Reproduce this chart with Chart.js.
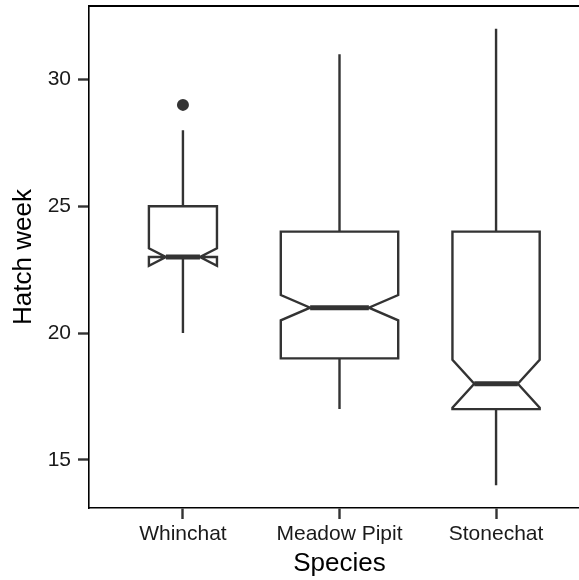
<!DOCTYPE html>
<html>
<head>
<meta charset="utf-8">
<script src="https://cdn.jsdelivr.net/npm/chart.js@4.4.1/dist/chart.umd.min.js"></script>
<style>
    html, body { margin: 0; padding: 0; background: #fff; overflow: hidden; }
    #wrap { width: 579px; height: 580px; overflow: hidden; }
</style>
</head>
<body>
<div id="wrap"><canvas id="hatchChart" width="596" height="580"></canvas></div>
<script>
// Hatch week per species
const species = ['Whinchat', 'Meadow Pipit', 'Stonechat'];
const lowerWhisker = [20, 17, 14];
const lowerHinge = [23, 19, 17];
const medians = [23, 21, 18];
const upperHinge = [25, 24, 24];
const upperWhisker = [28, 31, 32];
// sample sizes (drive box width and notch size, as varwidth + notch do)
const counts = [84, 250, 138];

const outlierSpecies = ['Whinchat'];
const outlierWeeks = [29];

const yTicks = [15, 20, 25, 30];

const lineColor = '#333333';
const fontFamily = '"Liberation Sans", Arial, sans-serif';

// 5% expansion of the data range, like ggplot
const allValues = lowerWhisker.concat(upperWhisker, outlierWeeks);
const dataMin = Math.min(...allValues);
const dataMax = Math.max(...allValues);
const pad = (dataMax - dataMin) * 0.05;

const maxSqrt = Math.max(...counts.map((n) => Math.sqrt(n)));

// no extra room for tick labels at the ends of the axes
const noEdgePadding = (scale) => {
    scale.paddingTop = 0;
    scale.paddingBottom = 0;
    scale.paddingLeft = 0;
    scale.paddingRight = 0;
};

// Draws the notched boxes and whiskers through the chart's scales
const boxplotPlugin = {
    id: 'boxplot',
    beforeDatasetsDraw(chart) {
        const { ctx, scales: { x, y } } = chart;
        ctx.save();
        ctx.strokeStyle = lineColor;
        ctx.fillStyle = '#ffffff';
        ctx.lineJoin = 'miter';
        ctx.lineCap = 'butt';

        species.forEach((name, i) => {
            const pos = i + 1;
            const half = 0.375 * Math.sqrt(counts[i]) / maxSqrt;
            const iqr = upperHinge[i] - lowerHinge[i];
            const notch = 1.58 * iqr / Math.sqrt(counts[i]);
            const notchLo = medians[i] - notch;
            const notchHi = medians[i] + notch;

            const xc = x.getPixelForValue(pos);
            const x0 = x.getPixelForValue(pos - half);
            const x1 = x.getPixelForValue(pos + half);
            const nx0 = x.getPixelForValue(pos - half / 2);
            const nx1 = x.getPixelForValue(pos + half / 2);

            // whiskers
            ctx.lineWidth = 2.4;
            ctx.beginPath();
            ctx.moveTo(xc, y.getPixelForValue(upperHinge[i]));
            ctx.lineTo(xc, y.getPixelForValue(upperWhisker[i]));
            ctx.moveTo(xc, y.getPixelForValue(lowerHinge[i]));
            ctx.lineTo(xc, y.getPixelForValue(lowerWhisker[i]));
            ctx.stroke();

            // notched box
            ctx.beginPath();
            ctx.moveTo(x0, y.getPixelForValue(upperHinge[i]));
            ctx.lineTo(x0, y.getPixelForValue(notchHi));
            ctx.lineTo(nx0, y.getPixelForValue(medians[i]));
            ctx.lineTo(x0, y.getPixelForValue(notchLo));
            ctx.lineTo(x0, y.getPixelForValue(lowerHinge[i]));
            ctx.lineTo(x1, y.getPixelForValue(lowerHinge[i]));
            ctx.lineTo(x1, y.getPixelForValue(notchLo));
            ctx.lineTo(nx1, y.getPixelForValue(medians[i]));
            ctx.lineTo(x1, y.getPixelForValue(notchHi));
            ctx.lineTo(x1, y.getPixelForValue(upperHinge[i]));
            ctx.closePath();
            ctx.fill();
            ctx.stroke();

            // median
            ctx.lineWidth = 5;
            ctx.beginPath();
            ctx.moveTo(nx0, y.getPixelForValue(medians[i]));
            ctx.lineTo(nx1, y.getPixelForValue(medians[i]));
            ctx.stroke();
        });
        ctx.restore();
    },
    afterDraw(chart) {
        // panel border on top / right
        const { ctx, chartArea } = chart;
        ctx.save();
        ctx.strokeStyle = '#000000';
        ctx.lineWidth = 2;
        ctx.beginPath();
        ctx.moveTo(chartArea.left, chartArea.top);
        ctx.lineTo(chartArea.right, chartArea.top);
        ctx.lineTo(chartArea.right, chartArea.bottom);
        ctx.stroke();
        ctx.restore();
    }
};

new Chart(document.getElementById('hatchChart'), {
    type: 'scatter',
    data: {
        datasets: [{
            label: 'Outliers',
            data: outlierSpecies.map((s, i) => ({ x: species.indexOf(s) + 1, y: outlierWeeks[i] })),
            backgroundColor: lineColor,
            borderWidth: 0,
            pointRadius: 6
        }]
    },
    options: {
        responsive: false,
        animation: false,
        layout: { padding: { left: 0, right: 2, top: 6, bottom: 0 } },
        plugins: {
            legend: { display: false },
            tooltip: { enabled: false }
        },
        scales: {
            x: {
                type: 'linear',
                min: 0.4,
                max: species.length + 0.6,
                afterBuildTicks: (scale) => {
                    scale.ticks = species.map((s, i) => ({ value: i + 1 }));
                },
                afterFit: (scale) => {
                    scale.height = 72;
                    noEdgePadding(scale);
                },
                ticks: {
                    callback: (v) => species[v - 1],
                    color: '#1a1a1a',
                    font: { family: fontFamily, size: 21 },
                    padding: 3,
                    maxRotation: 0
                },
                grid: {
                    display: true,
                    drawOnChartArea: false,
                    drawTicks: true,
                    tickLength: 11,
                    tickColor: lineColor,
                    tickWidth: 2.4
                },
                border: { display: true, color: '#000000', width: 1.6 },
                title: {
                    display: true,
                    text: 'Species',
                    color: '#000000',
                    font: { family: fontFamily, size: 26 },
                    padding: { top: 0, bottom: 1 }
                }
            },
            y: {
                type: 'linear',
                min: dataMin - pad,
                max: dataMax + pad,
                afterBuildTicks: (scale) => {
                    scale.ticks = yTicks.map((v) => ({ value: v }));
                },
                afterFit: (scale) => {
                    scale.width = 89;
                    noEdgePadding(scale);
                },
                ticks: {
                    color: '#1a1a1a',
                    font: { family: fontFamily, size: 21 },
                    padding: 7
                },
                grid: {
                    display: true,
                    drawOnChartArea: false,
                    drawTicks: true,
                    tickLength: 11,
                    tickColor: lineColor,
                    tickWidth: 2.4
                },
                border: { display: true, color: '#000000', width: 1.6 },
                title: {
                    display: true,
                    text: 'Hatch week',
                    color: '#000000',
                    font: { family: fontFamily, size: 26 },
                    padding: { top: 8, bottom: 0 }
                }
            }
        }
    },
    plugins: [boxplotPlugin]
});
</script>
</body>
</html>
